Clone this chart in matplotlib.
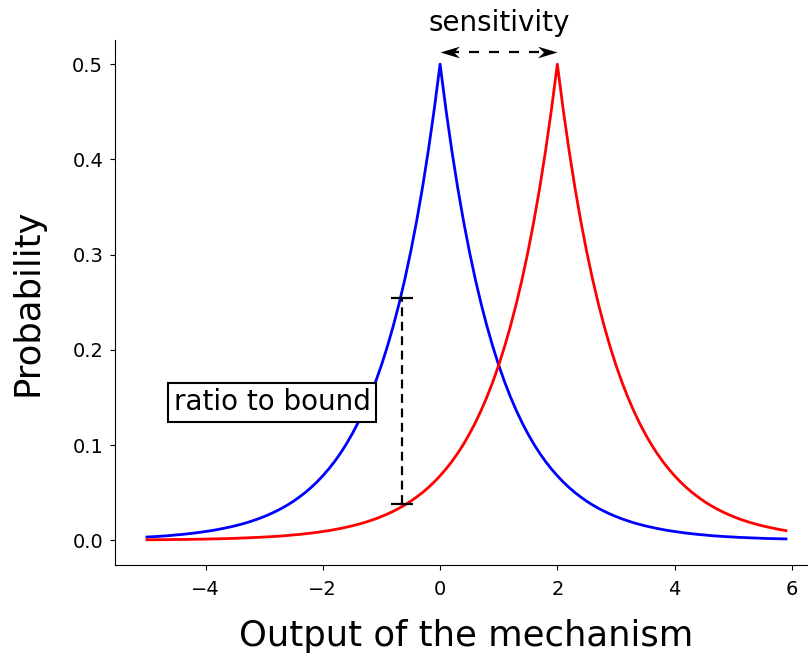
import matplotlib
matplotlib.use("Agg")
import matplotlib.pyplot as plt
from matplotlib.path import Path

# values: two Laplace-shaped densities peaking at 0 and 2
x = [-5.0, -4.9, -4.8, -4.7, -4.6, -4.5, -4.4, -4.3, -4.2, -4.1,
     -4.0, -3.9, -3.8, -3.7, -3.6, -3.5, -3.4, -3.3, -3.2, -3.1,
     -3.0, -2.9, -2.8, -2.7, -2.6, -2.5, -2.4, -2.3, -2.2, -2.1,
     -2.0, -1.9, -1.8, -1.7, -1.6, -1.5, -1.4, -1.3, -1.2, -1.1,
     -1.0, -0.9, -0.8, -0.7, -0.6, -0.5, -0.4, -0.3, -0.2, -0.1,
     0.0, 0.1, 0.2, 0.3, 0.4, 0.5, 0.6, 0.7, 0.8, 0.9,
     1.0, 1.1, 1.2, 1.3, 1.4, 1.5, 1.6, 1.7, 1.8, 1.9,
     2.0, 2.1, 2.2, 2.3, 2.4, 2.5, 2.6, 2.7, 2.8, 2.9,
     3.0, 3.1, 3.2, 3.3, 3.4, 3.5, 3.6, 3.7, 3.8, 3.9,
     4.0, 4.1, 4.2, 4.3, 4.4, 4.5, 4.6, 4.7, 4.8, 4.9,
     5.0, 5.1, 5.2, 5.3, 5.4, 5.5, 5.6, 5.7, 5.8, 5.9]
blue = [0.0034, 0.0037, 0.0041, 0.0045, 0.0050, 0.0056, 0.0061, 0.0068, 0.0075, 0.0083,
        0.0092, 0.0101, 0.0112, 0.0124, 0.0137, 0.0151, 0.0167, 0.0184, 0.0204, 0.0225,
        0.0249, 0.0275, 0.0304, 0.0336, 0.0371, 0.0410, 0.0454, 0.0501, 0.0554, 0.0612,
        0.0677, 0.0748, 0.0826, 0.0913, 0.1009, 0.1116, 0.1233, 0.1363, 0.1506, 0.1664,
        0.1839, 0.2033, 0.2247, 0.2483, 0.2744, 0.3033, 0.3352, 0.3704, 0.4094, 0.4524,
        0.5000, 0.4524, 0.4094, 0.3704, 0.3352, 0.3033, 0.2744, 0.2483, 0.2247, 0.2033,
        0.1839, 0.1664, 0.1506, 0.1363, 0.1233, 0.1116, 0.1009, 0.0913, 0.0826, 0.0748,
        0.0677, 0.0612, 0.0554, 0.0501, 0.0454, 0.0410, 0.0371, 0.0336, 0.0304, 0.0275,
        0.0249, 0.0225, 0.0204, 0.0184, 0.0167, 0.0151, 0.0137, 0.0124, 0.0112, 0.0101,
        0.0092, 0.0083, 0.0075, 0.0068, 0.0061, 0.0056, 0.0050, 0.0045, 0.0041, 0.0037,
        0.0034, 0.0030, 0.0028, 0.0025, 0.0023, 0.0020, 0.0018, 0.0017, 0.0015, 0.0014]
red = [0.0005, 0.0005, 0.0006, 0.0006, 0.0007, 0.0008, 0.0008, 0.0009, 0.0010, 0.0011,
       0.0012, 0.0014, 0.0015, 0.0017, 0.0018, 0.0020, 0.0023, 0.0025, 0.0028, 0.0030,
       0.0034, 0.0037, 0.0041, 0.0045, 0.0050, 0.0056, 0.0061, 0.0068, 0.0075, 0.0083,
       0.0092, 0.0101, 0.0112, 0.0124, 0.0137, 0.0151, 0.0167, 0.0184, 0.0204, 0.0225,
       0.0249, 0.0275, 0.0304, 0.0336, 0.0371, 0.0410, 0.0454, 0.0501, 0.0554, 0.0612,
       0.0677, 0.0748, 0.0826, 0.0913, 0.1009, 0.1116, 0.1233, 0.1363, 0.1506, 0.1664,
       0.1839, 0.2033, 0.2247, 0.2483, 0.2744, 0.3033, 0.3352, 0.3704, 0.4094, 0.4524,
       0.5000, 0.4524, 0.4094, 0.3704, 0.3352, 0.3033, 0.2744, 0.2483, 0.2247, 0.2033,
       0.1839, 0.1664, 0.1506, 0.1363, 0.1233, 0.1116, 0.1009, 0.0913, 0.0826, 0.0748,
       0.0677, 0.0612, 0.0554, 0.0501, 0.0454, 0.0410, 0.0371, 0.0336, 0.0304, 0.0275,
       0.0249, 0.0225, 0.0204, 0.0184, 0.0167, 0.0151, 0.0137, 0.0124, 0.0112, 0.0101]

# annotation values
ratio_x = -0.65
ratio_low, ratio_high = 0.038, 0.254
sens_from, sens_to, sens_y = 0.0, 2.0, 0.513

fig = plt.figure(figsize=(8.08, 6.55), dpi=100)
ax = fig.add_axes([0.1423, 0.1374, 0.870, 0.801])

ax.plot(x, blue, color="blue", lw=2)
ax.plot(x, red, color="red", lw=2)

# sensitivity arrow: dashed shaft + notched heads
ax.plot([sens_from + 0.15, sens_to - 0.15], [sens_y, sens_y], color="black",
        lw=1.6, ls=(0, (4.5, 4.5)))
head_r = Path([(0, 0), (-1, 0.3), (-0.7, 0), (-1, -0.3), (0, 0)],
              [Path.MOVETO, Path.LINETO, Path.LINETO, Path.LINETO, Path.CLOSEPOLY])
head_l = Path([(0, 0), (1, 0.3), (0.7, 0), (1, -0.3), (0, 0)],
              [Path.MOVETO, Path.LINETO, Path.LINETO, Path.LINETO, Path.CLOSEPOLY])
ax.plot([sens_to], [sens_y], marker=head_r, ms=28, color="black", mew=0)
ax.plot([sens_from], [sens_y], marker=head_l, ms=28, color="black", mew=0)
ax.text((sens_from + sens_to) / 2, 0.543, "sensitivity", fontsize=20,
        ha="center", va="center")

# ratio bar
ax.plot([ratio_x, ratio_x], [ratio_low, ratio_high], color="black",
        ls=(0, (4, 2.5)), lw=1.6)
ax.plot([ratio_x, ratio_x], [ratio_low, ratio_high], ls="none", marker="_",
        ms=16, mew=1.6, color="black")
ax.text(-2.86, 0.145, "ratio to bound", fontsize=20, ha="center", va="center",
        bbox=dict(boxstyle="square,pad=0.2", fc="white", ec="black", lw=1.5))

ax.set_xlim(-5.545, 6.445)
ax.set_ylim(-0.026, 0.525)
ax.spines["top"].set_visible(False)
ax.spines["right"].set_visible(False)
ax.tick_params(labelsize=14)
ax.tick_params(axis="x", pad=7.5)
ax.tick_params(axis="y", pad=5)
ax.set_xlabel("Output of the mechanism", fontsize=25.5, labelpad=14)
ax.set_ylabel("Probability", fontsize=25.5, labelpad=20)

fig.savefig("out.png", dpi=100)
